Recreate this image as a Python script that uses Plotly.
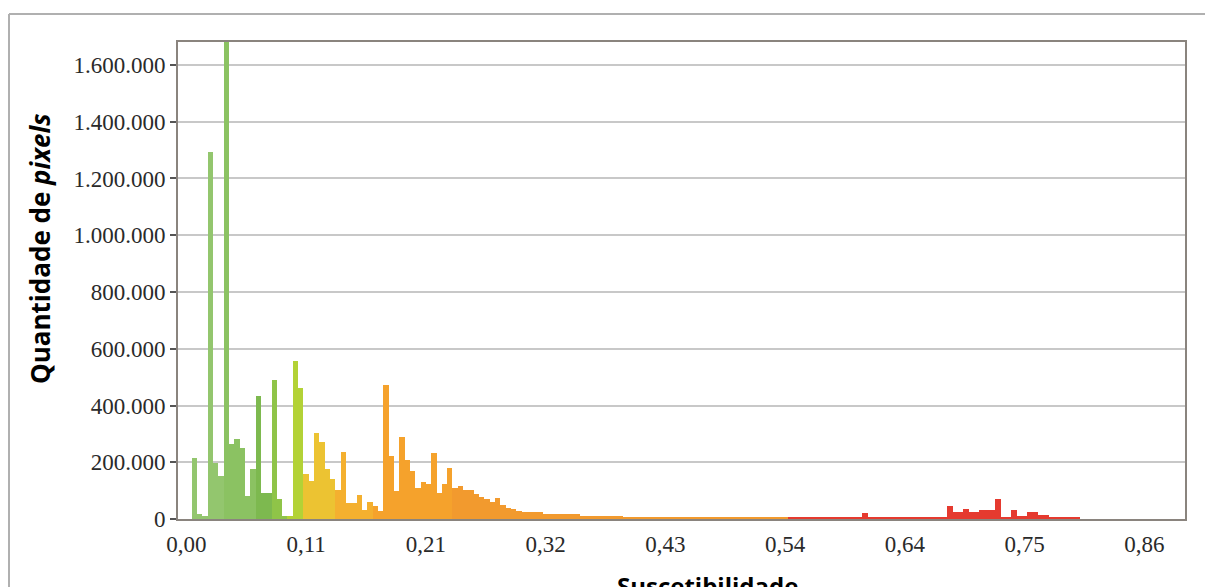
import plotly.graph_objects as go

# Histogram of susceptibility values: 180 equal bins over [0, 0.86]
x_min = 0.0
x_max = 0.86
n_bins = 180

pixel_counts = [
    0, 216000, 18000, 12000, 1295000, 198000, 150000, 1680000, 265000, 283000,          # 0-9
    250000, 80000, 176000, 433000, 93000, 93000, 490000, 70000, 12000, 12000,          # 10-19
    558000, 462000, 160000, 135000, 302000, 270000, 176000, 140000, 102000, 237000,    # 20-29
    56000, 56000, 86000, 30000, 60000, 45000, 28000, 472000, 222000, 100000,           # 30-39
    289000, 207000, 170000, 110000, 130000, 122000, 234000, 93000, 124000, 179000,     # 40-49
    110000, 116000, 101000, 101000, 88000, 79000, 69000, 61000, 75000, 49000,          # 50-59
    40000, 35000, 28000, 25000, 25000, 25000, 24000, 17000, 17000, 17000,              # 60-69
    17000, 17000, 17000, 17000, 11000, 11000, 11000, 11000, 11000, 11000,              # 70-79
    11000, 11000, 5000, 5000, 5000, 5000, 5000, 5000, 5000, 5000,                      # 80-89
    5000, 5000, 5000, 5000, 5000, 5000, 5000, 5000, 5000, 5000,                        # 90-99
    5000, 5000, 5000, 5000, 5000, 5000, 5000, 5000, 5000, 5000,                        # 100-109
    5000, 5000, 5000, 5000, 5000, 5000, 5000, 5000, 5000, 5000,                        # 110-119
    5000, 5000, 5000, 5000, 5000, 5000, 5000, 22000, 6000, 6000,                       # 120-129
    6000, 6000, 6000, 6000, 6000, 6000, 6000, 6000, 6000, 6000,                        # 130-139
    6000, 6000, 6000, 45000, 23000, 23000, 37000, 23000, 23000, 30000,                 # 140-149
    30000, 30000, 72000, 8000, 8000, 33000, 12000, 12000, 23000, 23000,                # 150-159
    15000, 15000, 8000, 8000, 8000, 8000, 8000, 8000,                                  # 160-167
]

tick_labels = ["0,00", "0,11", "0,21", "0,32", "0,43", "0,54", "0,64", "0,75", "0,86"]
y_ticks = [0, 200000, 400000, 600000, 800000, 1000000, 1200000, 1400000, 1600000]

# Colour classes of the susceptibility map (upper limits and fill colours)
class_limits = [0.035, 0.062, 0.075, 0.09, 0.105, 0.135, 0.165, 0.24, 0.54, 1.0]
class_colors = ["#93c66e", "#8bc262", "#7db94f", "#8fc448", "#b3d236",
                "#ecc332", "#f4b02f", "#f5a22c", "#f29a2e", "#e53a2f"]

bin_width = (x_max - x_min) / n_bins
bin_centers = [x_min + (i + 0.5) * bin_width for i in range(len(pixel_counts))]


def class_color(v):
    for lim, col in zip(class_limits, class_colors):
        if v < lim:
            return col
    return class_colors[-1]


bar_colors = [class_color(c) for c in bin_centers]
tick_positions = [x_min + k * (x_max - x_min) / (len(tick_labels) - 1) for k in range(len(tick_labels))]

fig = go.Figure(
    go.Bar(
        x=bin_centers,
        y=pixel_counts,
        width=bin_width,
        marker=dict(color=bar_colors, line=dict(width=0)),
        hovertemplate="%{x:.3f}: %{y:,.0f}<extra></extra>",
    )
)

W, H = 1205, 587
L, R, T, B = 178, 20, 42, 68
pw, ph = W - L - R, H - T - B


def px_x(px):
    return (px - L) / pw


def px_y(py):
    return (H - B - py) / ph


frame_color = "#8a847e"

fig.update_layout(
    width=W,
    height=H,
    margin=dict(l=L, r=R, t=T, b=B),
    paper_bgcolor="white",
    plot_bgcolor="white",
    bargap=0,
    showlegend=False,
    separators=",.",
    xaxis=dict(
        range=[-0.0075, 0.8965],
        tickmode="array",
        tickvals=tick_positions,
        ticktext=tick_labels,
        ticks="outside",
        ticklen=3,
        tickcolor="rgba(0,0,0,0)",
        showgrid=False,
        zeroline=False,
        showline=True,
        linecolor=frame_color,
        linewidth=2,
        mirror=True,
        tickfont=dict(family="Liberation Serif", size=23, color="#2a2a2a"),
    ),
    yaxis=dict(
        range=[0, 1681000],
        tickmode="array",
        tickvals=y_ticks,
        tickformat=",.0f",
        ticks="outside",
        ticklen=6,
        tickwidth=1.5,
        tickcolor="#555555",
        showgrid=True,
        gridcolor="#c8c8c8",
        gridwidth=1.5,
        zeroline=False,
        showline=True,
        linecolor=frame_color,
        linewidth=2,
        mirror=True,
        tickfont=dict(family="Liberation Serif", size=23, color="#2a2a2a"),
    ),
    annotations=[
        dict(
            text="Quantidade de <i>pixels</i>",
            xref="paper", yref="paper",
            x=px_x(40), y=px_y(249),
            xanchor="center", yanchor="middle",
            textangle=-90,
            showarrow=False,
            font=dict(family="Open Sans", size=26, color="black", weight="bold"),
        ),
        dict(
            text="Suscetibilidade",
            xref="paper", yref="paper",
            x=px_x(707), y=px_y(567),
            xanchor="center", yanchor="top",
            showarrow=False,
            font=dict(family="Open Sans", size=24, color="black", weight="bold"),
        ),
    ],
    shapes=[
        dict(type="line", xref="paper", yref="paper",
             x0=px_x(9), x1=px_x(W + 2), y0=px_y(14), y1=px_y(14),
             line=dict(color="#b0b0b0", width=2)),
        dict(type="line", xref="paper", yref="paper",
             x0=px_x(9), x1=px_x(9), y0=px_y(14), y1=px_y(H + 2),
             line=dict(color="#b0b0b0", width=2)),
    ],
)

fig.write_html("out.html")
